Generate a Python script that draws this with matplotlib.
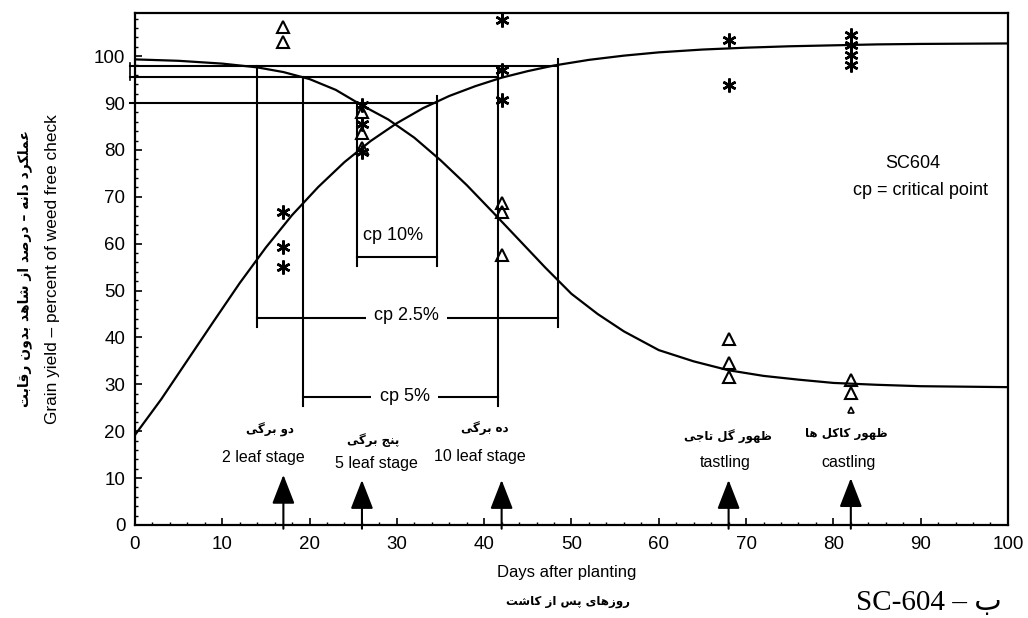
import matplotlib.pyplot as plt
from matplotlib.ticker import MultipleLocator

# ---- data ----
# fitted curves (read every few days)
curve_days_up = [0, 3, 6, 9, 12, 15, 18, 21, 24, 27, 30, 33, 36, 39, 42, 45, 48, 52, 56, 60, 65, 70, 75, 80, 85, 90, 95, 100]
curve_up = [19.2, 26.8, 35.1, 43.4, 51.6, 59.2, 66.1, 72.1, 77.4, 81.9, 85.7, 88.9, 91.5, 93.6, 95.4, 96.8, 98.0,
            99.2, 100.1, 100.8, 101.4, 101.8, 102.1, 102.3, 102.5, 102.6, 102.65, 102.7]
curve_days_down = [0, 5, 10, 14, 17, 20, 23, 26, 29, 32, 35, 38, 41, 44, 47, 50, 53, 56, 60, 64, 68, 72, 76, 80, 85, 90, 95, 100]
curve_down = [99.3, 99.0, 98.4, 97.6, 96.6, 95.1, 92.8, 89.5, 86.5, 82.6, 77.8, 72.5, 66.7, 60.8, 54.9, 49.3, 45.0,
              41.3, 37.3, 34.9, 33.0, 31.8, 31.0, 30.3, 29.9, 29.6, 29.5, 29.4]

# observations: weed-free (stars) and weedy (triangles)
star_days = [17, 17, 17, 26, 26, 26, 42, 42, 42, 68, 68, 82, 82, 82, 82]
star_vals = [66.8, 59.3, 55.0, 89.5, 85.5, 79.5, 107.7, 97.0, 90.6, 103.4, 93.8, 104.5, 102.3, 100.2, 98.1]
tri_days = [17, 17, 26, 26, 26, 42, 42, 42, 68, 68, 68, 82, 82]
tri_vals = [106.2, 103.0, 88.0, 83.5, 80.5, 68.6, 66.7, 57.6, 39.7, 34.5, 31.6, 30.9, 28.1]
caret_days = [82]
caret_vals = [24.5]

# critical points: yield level, start / end day, bracket height, label
cp_levels = [97.8, 95.5, 90.0]
cp_start = [14.0, 19.3, 25.4]
cp_end = [48.5, 41.6, 34.6]
cp_bracket = [44.2, 27.3, 57.2]
cp_labels = ['cp 2.5%', 'cp 5%', 'cp 10%']
cp_label_x = [31.1, 30.9, 29.6]
cp_label_y = [44.6, 27.3, 61.8]

# growth stages
stage_days = [17, 26, 42, 68, 82]
stage_tip = [10.7, 9.6, 9.6, 9.6, 10.0]
stage_en = ['2 leaf stage', '5 leaf stage', '10 leaf stage', 'tastling', 'castling']
stage_fa = ['دو برگی', 'پنج برگی', 'ده برگی', 'ظهور گل تاجی', 'ظهور کاکل ها']
stage_en_x = [14.7, 27.7, 39.5, 67.6, 81.7]
stage_en_y = [14.5, 13.2, 14.7, 13.4, 13.4]
stage_fa_x = [15.5, 27.3, 40.1, 67.9, 81.5]
stage_fa_y = [20.2, 18.1, 20.7, 18.8, 19.6]

# Persian letters: isolated, final, initial, medial presentation forms
FORMS = {
    'ا': ('\uFE8D', '\uFE8E', None, None),
    'ب': ('\uFE8F', '\uFE90', '\uFE91', '\uFE92'),
    'پ': ('\uFB56', '\uFB57', '\uFB58', '\uFB59'),
    'ت': ('\uFE95', '\uFE96', '\uFE97', '\uFE98'),
    'ج': ('\uFE9D', '\uFE9E', '\uFE9F', '\uFEA0'),
    'د': ('\uFEA9', '\uFEAA', None, None),
    'ر': ('\uFEAD', '\uFEAE', None, None),
    'ز': ('\uFEAF', '\uFEB0', None, None),
    'س': ('\uFEB1', '\uFEB2', '\uFEB3', '\uFEB4'),
    'ش': ('\uFEB5', '\uFEB6', '\uFEB7', '\uFEB8'),
    'ص': ('\uFEB9', '\uFEBA', '\uFEBB', '\uFEBC'),
    'ظ': ('\uFEC5', '\uFEC6', '\uFEC7', '\uFEC8'),
    'ع': ('\uFEC9', '\uFECA', '\uFECB', '\uFECC'),
    'ق': ('\uFED5', '\uFED6', '\uFED7', '\uFED8'),
    'ک': ('\uFB8E', '\uFB8F', '\uFB90', '\uFB91'),
    'گ': ('\uFB92', '\uFB93', '\uFB94', '\uFB95'),
    'ل': ('\uFEDD', '\uFEDE', '\uFEDF', '\uFEE0'),
    'م': ('\uFEE1', '\uFEE2', '\uFEE3', '\uFEE4'),
    'ن': ('\uFEE5', '\uFEE6', '\uFEE7', '\uFEE8'),
    'ه': ('\uFEE9', '\uFEEA', '\uFEEB', '\uFEEC'),
    'و': ('\uFEED', '\uFEEE', None, None),
    'ی': ('\uFBFC', '\uFBFD', '\uFBFE', '\uFBFF'),
}


def fa(text):
    # shape Persian text and put it in visual (left-to-right) order
    out = []
    for i, c in enumerate(text):
        if c not in FORMS:
            out.append(c)
            continue
        prev = text[i - 1] if i > 0 else ''
        nxt = text[i + 1] if i + 1 < len(text) else ''
        iso, fin, ini, med = FORMS[c]
        j_prev = prev in FORMS and FORMS[prev][2] is not None
        j_next = nxt in FORMS and ini is not None
        if j_prev and j_next:
            out.append(med)
        elif j_prev:
            out.append(fin)
        elif j_next:
            out.append(ini)
        else:
            out.append(iso)
    return ''.join(reversed(out))


plt.rcParams['font.family'] = ['Liberation Sans', 'DejaVu Sans']
FA_FONT = ['DejaVu Sans']

fig = plt.figure(figsize=(10.28, 6.18), dpi=100)
ax = fig.add_axes([0.1313, 0.1505, 0.8492, 0.8285])

# curves and observations
ax.plot(curve_days_up, curve_up, color='black', lw=1.6)
ax.plot(curve_days_down, curve_down, color='black', lw=1.6)
ax.plot(star_days, star_vals, ls='none', marker=(6, 2, 0), ms=10, mec='black', mew=1.8)
ax.plot(tri_days, tri_vals, ls='none', marker='^', ms=8.5, mfc='none', mec='black', mew=1.5)
ax.plot(caret_days, caret_vals, ls='none', marker='^', ms=4, mfc='none', mec='black', mew=1.2)

# critical point lines and brackets
for lvl, x0, x1, yb, lab, lx, ly in zip(cp_levels, cp_start, cp_end, cp_bracket, cp_labels, cp_label_x, cp_label_y):
    ax.plot([-0.6, x1], [lvl, lvl], color='black', lw=1.5, clip_on=False)
    ax.plot([x0, x0], [lvl, yb - 2], color='black', lw=1.5)
    ax.plot([x1, x1], [lvl + 1.5, yb - 2], color='black', lw=1.5)
    ax.plot([x0, x1], [yb, yb], color='black', lw=1.5)
    box = dict(fc='white', ec='none', pad=6) if lab != 'cp 10%' else None
    ax.text(lx, ly, lab, ha='center', va='center', fontsize=13, bbox=box)
ax.plot([-0.6, -0.6], [95.0, 98.5], color='black', lw=1.2, clip_on=False)

# growth stage arrows and labels
for d, tip in zip(stage_days, stage_tip):
    ax.annotate('', xy=(d, tip), xytext=(d, -0.8), annotation_clip=False,
                arrowprops=dict(arrowstyle='-|>,head_length=1.8,head_width=0.7', color='black', lw=1.5,
                                shrinkA=0, shrinkB=0))
for x, y, t in zip(stage_en_x, stage_en_y, stage_en):
    ax.text(x, y, t, ha='center', va='center', fontsize=11.5)
for x, y, t in zip(stage_fa_x, stage_fa_y, stage_fa):
    ax.text(x, y, fa(t), ha='center', va='center', fontsize=8.5, fontweight='bold', family=FA_FONT)

ax.text(89.1, 77.2, 'SC604', ha='center', va='center', fontsize=13)
ax.text(90.0, 71.4, 'cp = critical point', ha='center', va='center', fontsize=13)

# axes
ax.set_xlim(0, 100)
ax.set_ylim(0, 109.2)
ax.xaxis.set_major_locator(MultipleLocator(10))
ax.xaxis.set_minor_locator(MultipleLocator(2))
ax.yaxis.set_minor_locator(MultipleLocator(2))
ax.set_yticks(range(0, 101, 10))
ax.tick_params(which='major', direction='in', length=5, width=1.2, labelsize=13.5)
ax.tick_params(which='minor', direction='in', length=2.5, width=1)
ax.tick_params(axis='x', pad=8)
ax.tick_params(axis='y', pad=7)
for s in ax.spines.values():
    s.set_linewidth(1.6)

fig.text(0.551, 0.073, 'Days after planting', ha='center', va='center', fontsize=12)
fig.text(0.553, 0.027, fa('روزهای پس از کاشت'), ha='center', va='center', fontsize=8.5, fontweight='bold', family=FA_FONT)
fig.text(0.904, 0.024, 'SC-604 – ' + fa('ب'), ha='center', va='center', fontsize=21,
         family=['Liberation Serif', 'DejaVu Sans'])
fig.text(0.051, 0.565, 'Grain yield – percent of weed free check', rotation=90, ha='center', va='center', fontsize=12.4)
fig.text(0.024, 0.565, fa('عملکرد دانه – درصد از شاهد بدون رقابت'), rotation=90, ha='center', va='center',
         fontsize=10, fontweight='bold', family=FA_FONT)

fig.savefig('out.png', dpi=100)
